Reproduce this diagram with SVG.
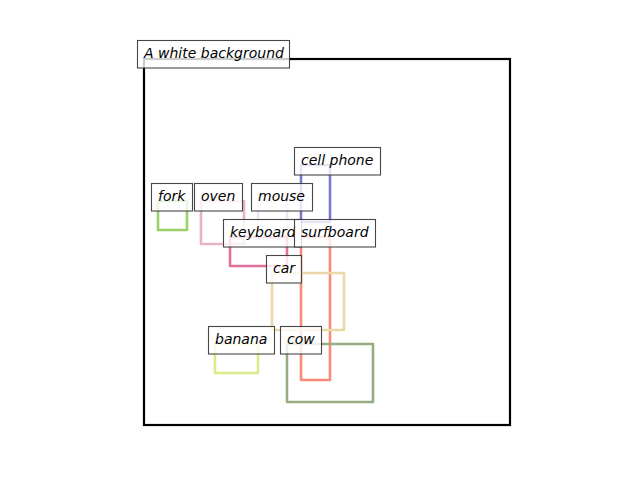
<svg xmlns="http://www.w3.org/2000/svg" width="640" height="480" viewBox="0 0 640 480">
<style>
.bb{fill:none;stroke-width:2.6;stroke-linejoin:round}
.lb{fill:#ffffff;fill-opacity:0.8;stroke:#333333;stroke-opacity:0.9;stroke-width:1.1}
.lt{font-family:"DejaVu Sans",sans-serif;font-style:italic;font-size:14px;fill:#000000}
</style>
<rect x="0" y="0" width="640" height="480" fill="#ffffff"/>
<rect id="frame" x="144" y="59" width="366" height="366" fill="none" stroke="#000000" stroke-width="2.2"/>
<g id="boxes">
<rect class="bb" x="158" y="201" width="29" height="29" stroke="#9bd06a"/>
<rect class="bb" x="201" y="201" width="43" height="43" stroke="#e9b2c7"/>
<rect class="bb" x="258" y="201" width="29" height="38" stroke="#e8e6fa"/>
<rect class="bb" x="301" y="165" width="29" height="57" stroke="#7a7ad2"/>
<rect class="bb" x="230" y="237" width="57" height="29" stroke="#e0709c"/>
<rect class="bb" x="301" y="237" width="29" height="143" stroke="#f98a78"/>
<rect class="bb" x="272" y="273" width="72" height="57" stroke="#ecd7a6"/>
<rect class="bb" x="215" y="344" width="43" height="29" stroke="#dfe98a"/>
<rect class="bb" x="287" y="344" width="86" height="58" stroke="#97ac80"/>
</g>
<g id="label-title"><rect class="lb" x="137.5" y="40.5" width="152" height="27.5"/><text class="lt" x="144" y="58">A white background</text></g>
<g id="label-fork"><rect class="lb" x="151.5" y="183.5" width="41" height="27.5"/><text class="lt" x="158" y="201">fork</text></g>
<g id="label-oven"><rect class="lb" x="194.5" y="183.5" width="48" height="27.5"/><text class="lt" x="201" y="201">oven</text></g>
<g id="label-mouse"><rect class="lb" x="251.5" y="183.5" width="61" height="27.5"/><text class="lt" x="258" y="201">mouse</text></g>
<g id="label-cellphone"><rect class="lb" x="294.5" y="147.5" width="86" height="27.5"/><text class="lt" x="301" y="165">cell phone</text></g>
<g id="label-keyboard"><rect class="lb" x="223.5" y="219.5" width="78" height="27.5"/><text class="lt" x="230" y="237">keyboard</text></g>
<g id="label-surfboard"><rect class="lb" x="294.5" y="219.5" width="81" height="27.5"/><text class="lt" x="301" y="237">surfboard</text></g>
<g id="label-car"><rect class="lb" x="266.5" y="255.5" width="35" height="27.5"/><text class="lt" x="273" y="273">car</text></g>
<g id="label-banana"><rect class="lb" x="208.5" y="326.5" width="66" height="27.5"/><text class="lt" x="215" y="344">banana</text></g>
<g id="label-cow"><rect class="lb" x="280.5" y="326.5" width="41" height="27.5"/><text class="lt" x="287" y="344">cow</text></g>
</svg>
